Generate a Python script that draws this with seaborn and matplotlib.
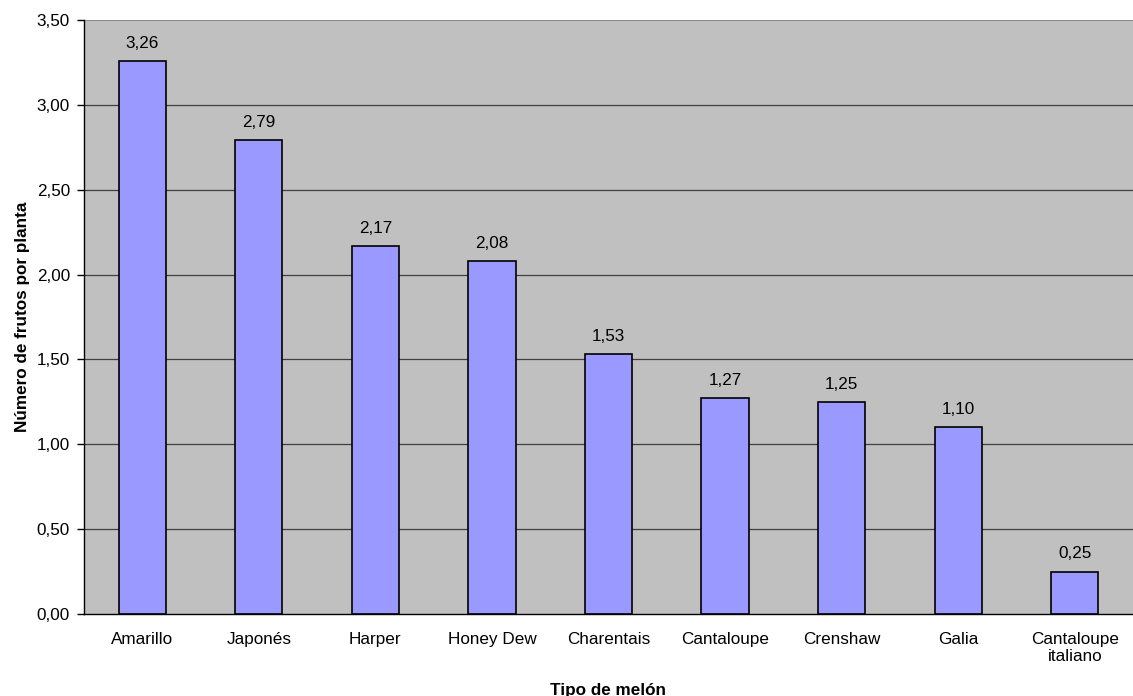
import matplotlib
matplotlib.use("Agg")
import matplotlib.pyplot as plt
import seaborn as sns
import pandas as pd
import numpy as np

categories = ["Amarillo", "Japonés", "Harper", "Honey Dew", "Charentais",
              "Cantaloupe", "Crenshaw", "Galia", "Cantaloupe\nitaliano"]
values = [3.26, 2.79, 2.17, 2.08, 1.53, 1.27, 1.25, 1.10, 0.25]
yticks = [0.0, 0.5, 1.0, 1.5, 2.0, 2.5, 3.0, 3.5]

sns.set_style("white")
plt.rcParams['font.family'] = ['Liberation Sans', 'DejaVu Sans']
plt.rcParams['text.color'] = 'black'
plt.rcParams['axes.labelcolor'] = 'black'
plt.rcParams['xtick.color'] = 'black'
plt.rcParams['ytick.color'] = 'black'

FS = 12.3
df = pd.DataFrame({"cat": categories, "val": values})

fig = plt.figure(figsize=(11.33, 6.96), dpi=100)
ax = fig.add_axes([84/1133, 82/696, (1133-84)/1133, (614-20)/696])
ax.set_facecolor("#C0C0C0")

sns.barplot(data=df, x="cat", y="val", color="#9999FF", saturation=1,
            width=0.405, edgecolor="black", linewidth=1.2, ax=ax, zorder=3)

ax.set_ylim(0, 3.5)
# plot area extends beyond the image's right edge
ax.set_xlim(-0.5, 8.41)
ax.set_yticks(yticks)
ax.set_yticklabels([f"{v:.2f}".replace(".", ",") for v in yticks], fontsize=FS)
for y in yticks[1:-1]:
    ax.axhline(y, color="#404040", linewidth=0.9, zorder=1)
ax.axhline(yticks[-1], color="#808080", linewidth=1.2, zorder=1)

ax.set_xticks(range(len(categories)))
ax.set_xticklabels(categories, fontsize=FS)
ax.tick_params(axis="x", length=0, pad=13)
ax.set_xticks(np.arange(len(categories) + 1) - 0.5, minor=True)
ax.tick_params(axis="x", which="minor", length=5, width=1, color="black", direction="out")
ax.tick_params(axis="y", length=5, width=1, color="black", direction="out", left=True, pad=5)

for s in ["top", "right"]:
    ax.spines[s].set_visible(False)
for s in ["left", "bottom"]:
    ax.spines[s].set_color("black")
    ax.spines[s].set_linewidth(1)

for i, v in enumerate(values):
    ax.text(i, v + 0.06, f"{v:.2f}".replace(".", ","), ha="center", va="bottom", fontsize=FS)

ax.set_xlabel("Tipo de melón", fontsize=FS, fontweight="bold", labelpad=13)
ax.set_ylabel("Número de frutos por planta", fontsize=FS, fontweight="bold", labelpad=5)

fig.savefig("out.png", dpi=100)
